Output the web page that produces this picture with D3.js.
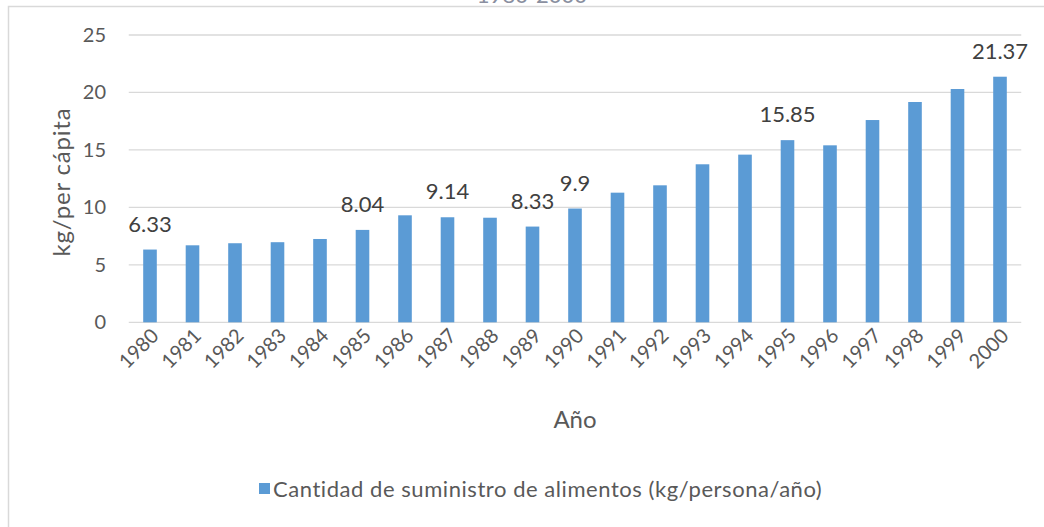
<!DOCTYPE html>
<html>
<head>
<meta charset="utf-8">
<script src="https://cdn.jsdelivr.net/npm/d3@7/dist/d3.min.js"></script>
<style>
  body { margin: 0; background: #fff; }
  text { font-family: Lato, "Open Sans", sans-serif; fill: #595959; }
</style>
</head>
<body>
<svg></svg>
<script>
// data
var years = ["1980","1981","1982","1983","1984","1985","1986","1987","1988","1989","1990",
             "1991","1992","1993","1994","1995","1996","1997","1998","1999","2000"];
var supply = [6.33, 6.7, 6.88, 6.97, 7.25, 8.04, 9.31, 9.14, 9.1, 8.33, 9.9,
              11.28, 11.92, 13.75, 14.59, 15.85, 15.4, 17.6, 19.17, 20.3, 21.37];
var labelled = ["1980","1985","1987","1989","1990","1995","2000"];
var yTicks = [0, 5, 10, 15, 20, 25];

var width = 1044, height = 527;
var svg = d3.select("svg").attr("width", width).attr("height", height);

// chart frame
svg.append("rect")
  .attr("x", 8.5).attr("y", 6.5)
  .attr("width", 1050).attr("height", 540)
  .attr("fill", "none")
  .attr("stroke", "#d9d9d9")
  .attr("stroke-width", 1.5);

// title is cut off at the top of the picture
svg.append("text")
  .attr("x", 532).attr("y", 3)
  .attr("text-anchor", "middle")
  .style("font-size", "22px")
  .style("fill", "#8a8fa0")
  .text("1980-2000");

var x = d3.scaleBand()
  .domain(years)
  .range([128.75, 1021.25])
  .paddingInner(0.68)
  .paddingOuter(0.34);

var y = d3.scaleLinear()
  .domain([0, 25])
  .range([322.3, 35]);

// gridlines
svg.append("g")
  .selectAll("line")
  .data(yTicks)
  .enter().append("line")
  .attr("x1", 128.75).attr("x2", 1021.25)
  .attr("y1", d => y(d)).attr("y2", d => y(d))
  .attr("stroke", "#d9d9d9")
  .attr("stroke-width", 1.3);

// y tick labels
svg.append("g")
  .selectAll("text")
  .data(yTicks)
  .enter().append("text")
  .attr("x", 106)
  .attr("y", d => y(d) + 7)
  .attr("text-anchor", "end")
  .style("font-size", "20px")
  .text(d => d);

// bars
svg.append("g")
  .selectAll("rect")
  .data(supply)
  .enter().append("rect")
  .attr("x", (d, i) => x(years[i]))
  .attr("width", x.bandwidth())
  .attr("y", d => y(d))
  .attr("height", d => y(0) - y(d))
  .attr("fill", "#5b9bd5");

// data labels
svg.append("g")
  .selectAll("text")
  .data(supply.filter((d, i) => labelled.indexOf(years[i]) >= 0))
  .enter().append("text")
  .attr("x", d => x(years[supply.indexOf(d)]) + x.bandwidth() / 2)
  .attr("y", d => y(d) - 18)
  .attr("text-anchor", "middle")
  .style("font-size", "22px")
  .style("fill", "#404040")
  .text(d => d);

// x tick labels, rotated
svg.append("g")
  .selectAll("text")
  .data(years)
  .enter().append("text")
  .attr("transform", d => "translate(" + (x(d) + x.bandwidth() / 2 + 10) + ",337) rotate(-45)")
  .attr("text-anchor", "end")
  .style("font-size", "20px")
  .text(d => d);

// axis titles
svg.append("text")
  .attr("transform", "translate(70,182) rotate(-90)")
  .attr("text-anchor", "middle")
  .style("font-size", "24px")
  .style("letter-spacing", "0.8px")
  .text("kg/per cápita");

svg.append("text")
  .attr("x", 575).attr("y", 428)
  .attr("text-anchor", "middle")
  .style("font-size", "24px")
  .text("Año");

// legend
var legend = svg.append("g").attr("transform", "translate(259,483)");
legend.append("rect")
  .attr("width", 11).attr("height", 11)
  .attr("fill", "#5b9bd5");
legend.append("text")
  .attr("x", 14).attr("y", 14)
  .style("font-size", "22px")
  .style("letter-spacing", "0.55px")
  .text("Cantidad de suministro de alimentos (kg/persona/año)");
</script>
</body>
</html>
